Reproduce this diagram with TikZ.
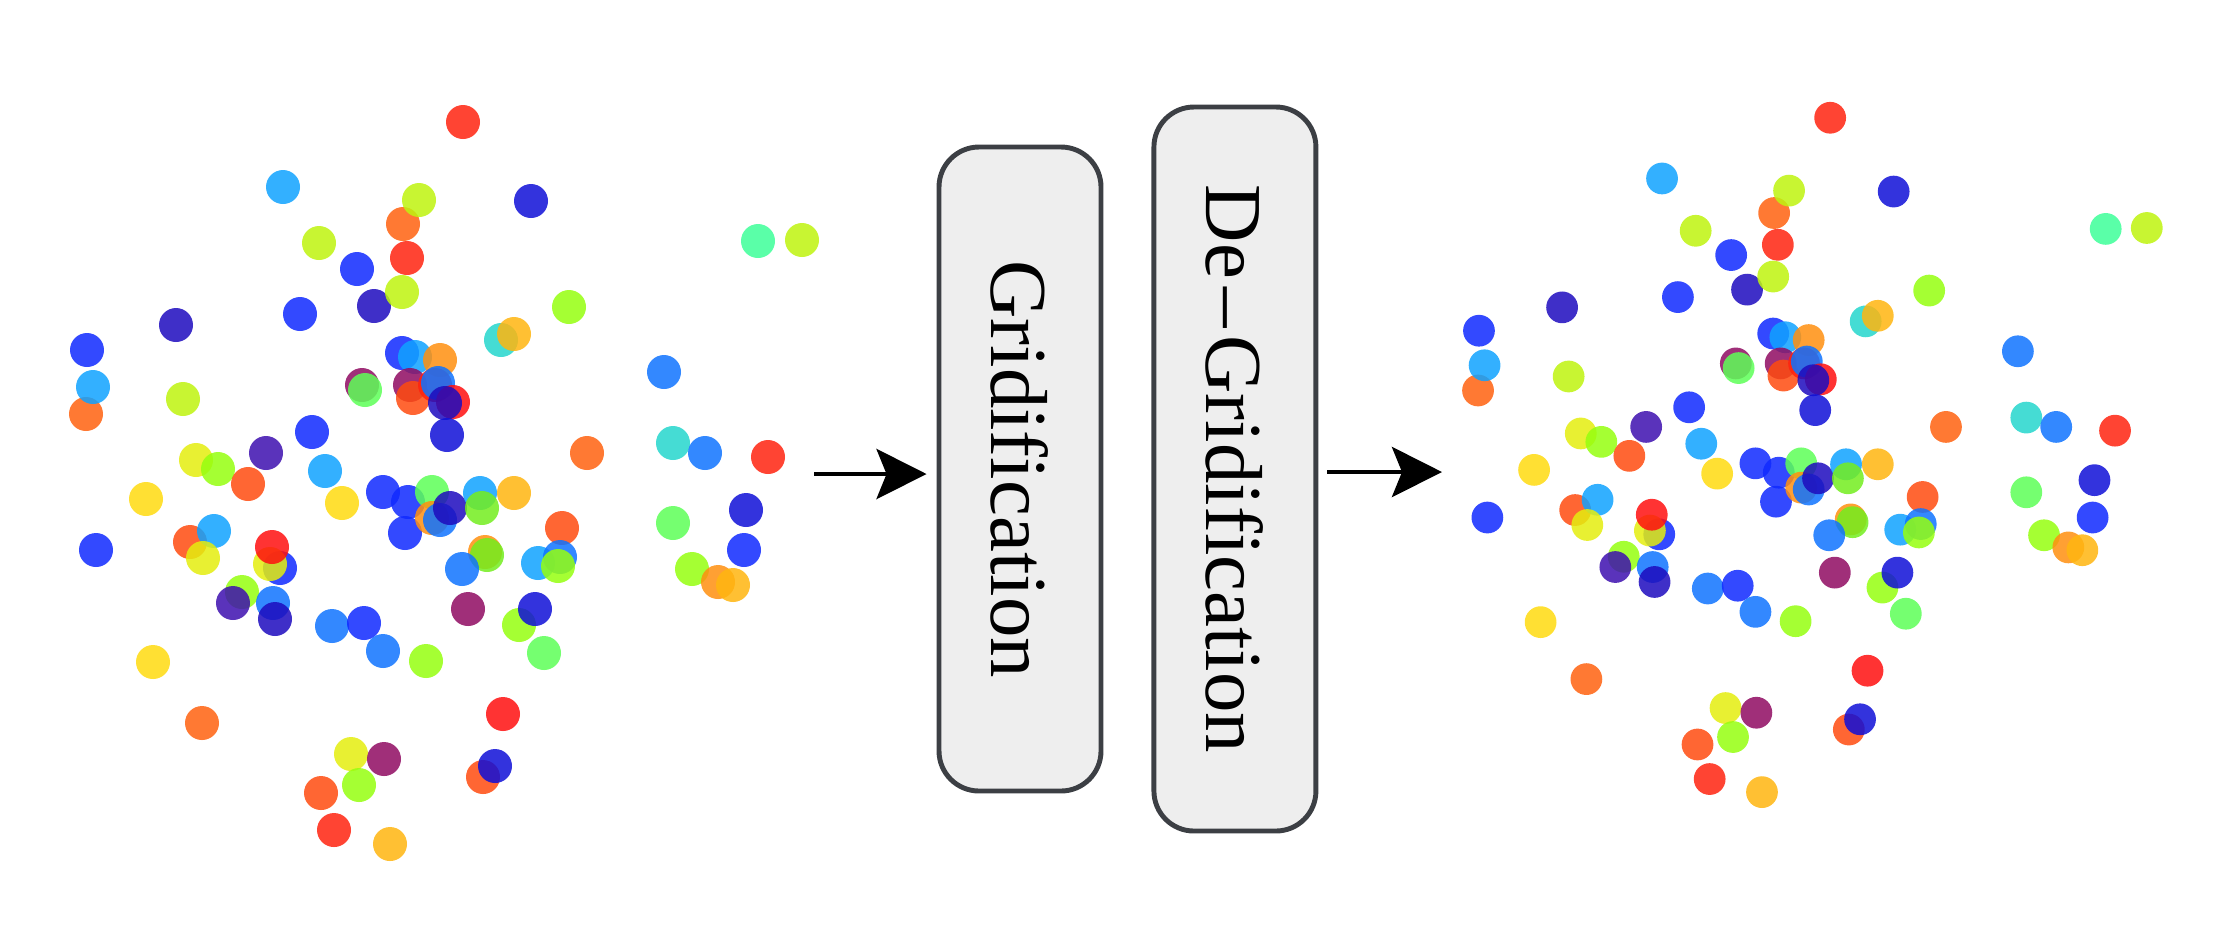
\documentclass[tikz,border=0pt]{standalone}
\usepackage{fontspec}
\setmainfont{Liberation Serif}
\usepackage{graphicx}
\usepackage{tikz}
\usetikzlibrary{arrows.meta,positioning}
\definecolor{jred}{HTML}{FF230F}
\definecolor{jscarlet}{HTML}{FF0F0F}
\definecolor{jorr}{HTML}{FF4B0F}
\definecolor{jorange}{HTML}{FF620F}
\definecolor{jamber}{HTML}{FF8F0F}
\definecolor{jgold}{HTML}{FFB50F}
\definecolor{jyellow}{HTML}{FFDA0F}
\definecolor{jlemon}{HTML}{E4ED0E}
\definecolor{jlime}{HTML}{BEF30E}
\definecolor{jgreen}{HTML}{95FF0F}
\definecolor{jleaf}{HTML}{73ED1E}
\definecolor{jmint}{HTML}{5DFF57}
\definecolor{jaqua}{HTML}{3DFF99}
\definecolor{jteal}{HTML}{24D6CC}
\definecolor{jsky}{HTML}{0FA2FF}
\definecolor{jazure}{HTML}{0F73FF}
\definecolor{jblue}{HTML}{0F29FF}
\definecolor{jnavy}{HTML}{0F0FD7}
\definecolor{jindigo}{HTML}{1D0BBE}
\definecolor{jviolet}{HTML}{3D0FAF}
\definecolor{jplum}{HTML}{8F0B62}
\definecolor{boxfill}{HTML}{EEEEEE}
\definecolor{boxline}{HTML}{3C3F44}
\newcommand{\pointcloud}{%
  \foreach \px/\py/\pc in {463/122/jred, 283/187/jsky, 403/224/jorange, 419/200/jlime,
      407/258/jred, 319/243/jlime, 357/269/jblue, 374/306/jindigo, 402/292/jlime,
      300/314/jblue, 176/325/jindigo, 87/350/jblue, 86/414/jorange, 93/387/jsky,
      183/399/jlime, 531/201/jnavy, 758/241/jaqua, 802/240/jlime, 569/307/jgreen,
      501/340/jteal, 514/334/jgold, 402/353/jblue, 415/357/jsky, 440/360/jamber,
      362/385/jplum, 365/390/jmint, 410/385/jplum, 413/398/jorr, 435/385/jred,
      438/383/jazure, 453/402/jscarlet, 445/403/jindigo, 447/435/jnavy,
      664/372/jazure, 673/443/jteal, 705/453/jazure, 587/453/jorange, 768/457/jred,
      312/432/jblue, 266/453/jviolet, 196/460/jlemon, 218/469/jgreen, 248/484/jorr,
      325/471/jsky, 146/499/jyellow, 96/550/jblue, 190/542/jorr, 214/531/jsky,
      203/558/jlemon, 280/568/jblue, 270/564/jlemon, 272/547/jscarlet,
      242/592/jgreen, 233/603/jviolet, 273/603/jazure, 275/619/jindigo,
      342/503/jyellow, 383/492/jblue, 408/502/jblue, 432/492/jmint, 405/533/jblue,
      432/518/jamber, 440/520/jazure, 450/508/jindigo, 480/493/jsky, 482/508/jleaf,
      514/493/jgold, 562/528/jorr, 485/552/jamber, 487/555/jleaf, 462/569/jazure,
      538/563/jsky, 560/557/jazure, 558/566/jgreen, 468/609/jplum, 519/625/jgreen,
      535/609/jnavy, 544/653/jmint, 426/661/jgreen, 332/626/jazure, 364/623/jblue,
      383/651/jazure, 153/662/jyellow, 202/723/jorange, 351/754/jlemon,
      384/759/jplum, 359/785/jgreen, 321/793/jorr, 334/830/jred, 390/844/jgold,
      503/714/jscarlet, 483/777/jorr, 495/766/jnavy, 673/523/jmint, 746/510/jnavy,
      744/550/jblue, 692/569/jgreen, 718/582/jamber, 733/585/jgold}
    \fill[blob=\pc] (\px,\py) circle (17);}
\tikzset{
  blob/.style={fill=#1, fill opacity=0.85},
  stage/.style={draw=boxline, fill=boxfill, line width=1.4pt, rounded corners=4mm,
      minimum width=16.2mm, inner sep=0pt, font=\fontsize{23}{28}\selectfont},
  flow/.style={-{Stealth[length=5mm, width=5mm, inset=1mm]}, line width=1.4pt},
}

\begin{document}
\begin{tikzpicture}[x=0.1mm,y=-0.1mm]
\useasboundingbox (0,0) rectangle (2227,939);
% input cloud
\begin{scope}
  \pointcloud
\end{scope}
% output cloud
\begin{scope}[shift={(1397.7,3.8)}, scale=0.934]
  \pointcloud
\end{scope}
\node[stage, minimum height=64.4mm] (grid) at (1020,469) {\rotatebox{-90}{Gridification}};
\node[stage, minimum height=72.4mm, right=4.8mm of grid] (degrid) {\rotatebox{-90}{De\kern0.8mm--\kern0.8mm Gridification}};
\coordinate (src) at (814,474);
\coordinate (dst) at (1442,472);
\draw[flow, shorten >=1mm] (src) -- (src -| grid.west);
\draw[flow, shorten <=0.9mm] (dst -| degrid.east) -- (dst);
\end{tikzpicture}
\end{document}
